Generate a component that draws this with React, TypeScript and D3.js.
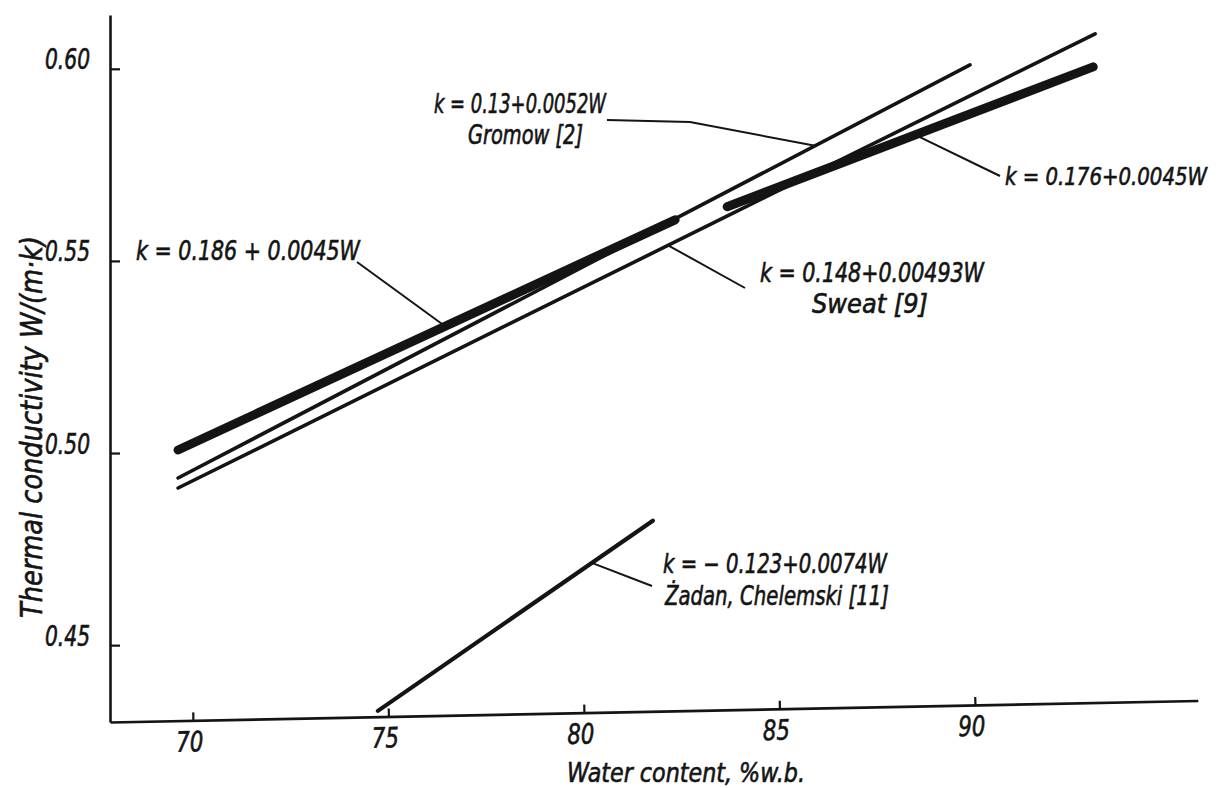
import React, { useEffect, useRef } from "react";
import * as d3 from "d3";

// line segments (W = water content %, k = W/(m·K))
const lineIds = ["fit1", "gromow", "sweat", "fit2", "zadan"];
const startW = [69.62, 69.62, 69.62, 83.66, 74.73];
const startK = [0.5008, 0.4935, 0.4909, 0.5641, 0.4329];
const endW = [82.33, 89.87, 93.07, 93.02, 81.76];
const endK = [0.5607, 0.601, 0.6091, 0.6005, 0.4824];

// annotation text + where its leader touches the line
const labelLines = [
  ["k = 0.186 + 0.0045W"],
  ["k = 0.13+0.0052W", "Gromow [2]"],
  ["k = 0.148+0.00493W", "Sweat [9]"],
  ["k = 0.176+0.0045W"],
  ["k = − 0.123+0.0074W", "Żadan, Chelemski [11]"],
];
const leaderW = [76.45, 85.91, 82.15, 88.47, 80.2];

const yTicks = [0.45, 0.5, 0.55, 0.6];
const yTickLabels = ["0.45", "0.50", "0.55", "0.60"];
const xTicks = [70, 75, 80, 85, 90];
const xTickLabels = ["70", "75", "80", "85", "90"];

const xTitle = "Water content, %w.b.";
const yTitle = "Thermal conductivity W/(m·k)";

const FONT = "'DejaVu Sans Condensed', 'Liberation Sans Narrow', 'DejaVu Sans', sans-serif";
const INK = "#141414";

export default function App() {
  const svgRef = useRef<SVGSVGElement>(null);

  useEffect(() => {
    const svg = d3.select(svgRef.current);
    svg.selectAll("*").remove();

    const x = d3.scaleLinear().domain([67.88, 95.7]).range([110, 1198]);
    const y = d3.scaleLinear().domain([0.43, 0.614]).range([722, 15]);

    svg.append("rect").attr("width", 1225).attr("height", 788).attr("fill", "#fff");

    // hand-lettered look: italic, a bit of stroke to fatten the glyphs
    const letter = (sel, size, len) =>
      sel
        .attr("fill", INK)
        .attr("stroke", INK)
        .attr("stroke-width", 0.6)
        .attr("font-family", FONT)
        .attr("font-style", "italic")
        .attr("font-size", size)
        .attr("textLength", len)
        .attr("lengthAdjust", "spacingAndGlyphs");

    // y axis, ticks pointing inwards, labels sitting on the tick
    const yAxis = d3
      .axisLeft(y)
      .tickValues(yTicks)
      .tickFormat((d, i) => yTickLabels[i])
      .tickSizeInner(-10)
      .tickSizeOuter(0)
      .tickPadding(20);
    const gy = svg.append("g").attr("transform", "translate(110,0)").call(yAxis);
    gy.select(".domain").attr("stroke", INK).attr("stroke-width", 2.6);
    gy.selectAll(".tick line").attr("stroke", INK).attr("stroke-width", 2.2);
    letter(gy.selectAll(".tick text").attr("dy", "0"), 28, 45);

    // x axis, scan is slightly tilted
    const xAxis = d3
      .axisBottom(x)
      .tickValues(xTicks)
      .tickFormat((d, i) => xTickLabels[i])
      .tickSizeInner(-8)
      .tickSizeOuter(0)
      .tickPadding(8);
    const gx = svg
      .append("g")
      .attr("transform", "translate(0,722) rotate(-1.13,110,0)")
      .call(xAxis);
    gx.select(".domain").attr("stroke", INK).attr("stroke-width", 2.6);
    gx.selectAll(".tick line").attr("stroke", INK).attr("stroke-width", 2.2);
    letter(gx.selectAll(".tick text").attr("y", 31).attr("dy", "0").attr("dx", -4), 28, 27);

    // axis titles
    letter(
      svg.append("text").attr("x", 686).attr("y", 782).attr("text-anchor", "middle").text(xTitle),
      27,
      238
    );
    letter(
      svg
        .append("text")
        .attr("transform", "translate(42,427) rotate(-90)")
        .attr("text-anchor", "middle")
        .text(yTitle),
      30,
      382
    );

    // the five lines
    const widths = { fit1: 9, gromow: 3.6, sweat: 3.6, fit2: 9, zadan: 4.2 };
    const line = d3
      .line<[number, number]>()
      .x((d) => x(d[0]))
      .y((d) => y(d[1]));

    lineIds.forEach((id, i) => {
      svg
        .append("path")
        .attr("d", line([[startW[i], startK[i]], [endW[i], endK[i]]]))
        .attr("fill", "none")
        .attr("stroke", INK)
        .attr("stroke-width", widths[id])
        .attr("stroke-linecap", "round");
    });

    // labels and leaders (pixel layout of the text blocks)
    const layout = {
      fit1: { xs: [136], ys: [260], lens: [224], size: 27, path: [[357, 262]] },
      gromow: { xs: [434, 468], ys: [113, 144], lens: [172, 115], size: 26, path: [[690, 122], [607, 120]] },
      sweat: { xs: [760, 812], ys: [282, 313], lens: [224, 116], size: 26, path: [[745, 288]] },
      fit2: { xs: [1005], ys: [185], lens: [202], size: 24, path: [[1000, 176]] },
      zadan: { xs: [663, 665], ys: [573, 605], lens: [224, 224], size: 26, path: [[652, 586]] },
    };

    lineIds.forEach((id, i) => {
      const l = layout[id];
      const t = (leaderW[i] - startW[i]) / (endW[i] - startW[i]);
      const ak = startK[i] + t * (endK[i] - startK[i]);
      const pts = [[x(leaderW[i]), y(ak)], ...l.path];
      svg
        .append("path")
        .attr("d", d3.line()(pts as [number, number][]))
        .attr("fill", "none")
        .attr("stroke", INK)
        .attr("stroke-width", 2);

      labelLines[i].forEach((txt, j) => {
        letter(svg.append("text").attr("x", l.xs[j]).attr("y", l.ys[j]).text(txt), l.size, l.lens[j]);
      });
    });
  }, []);

  return (
    <div style={{ position: "absolute", left: 0, top: 0 }}>
      <svg ref={svgRef} width={1225} height={788} style={{ display: "block" }}></svg>
    </div>
  );
}
